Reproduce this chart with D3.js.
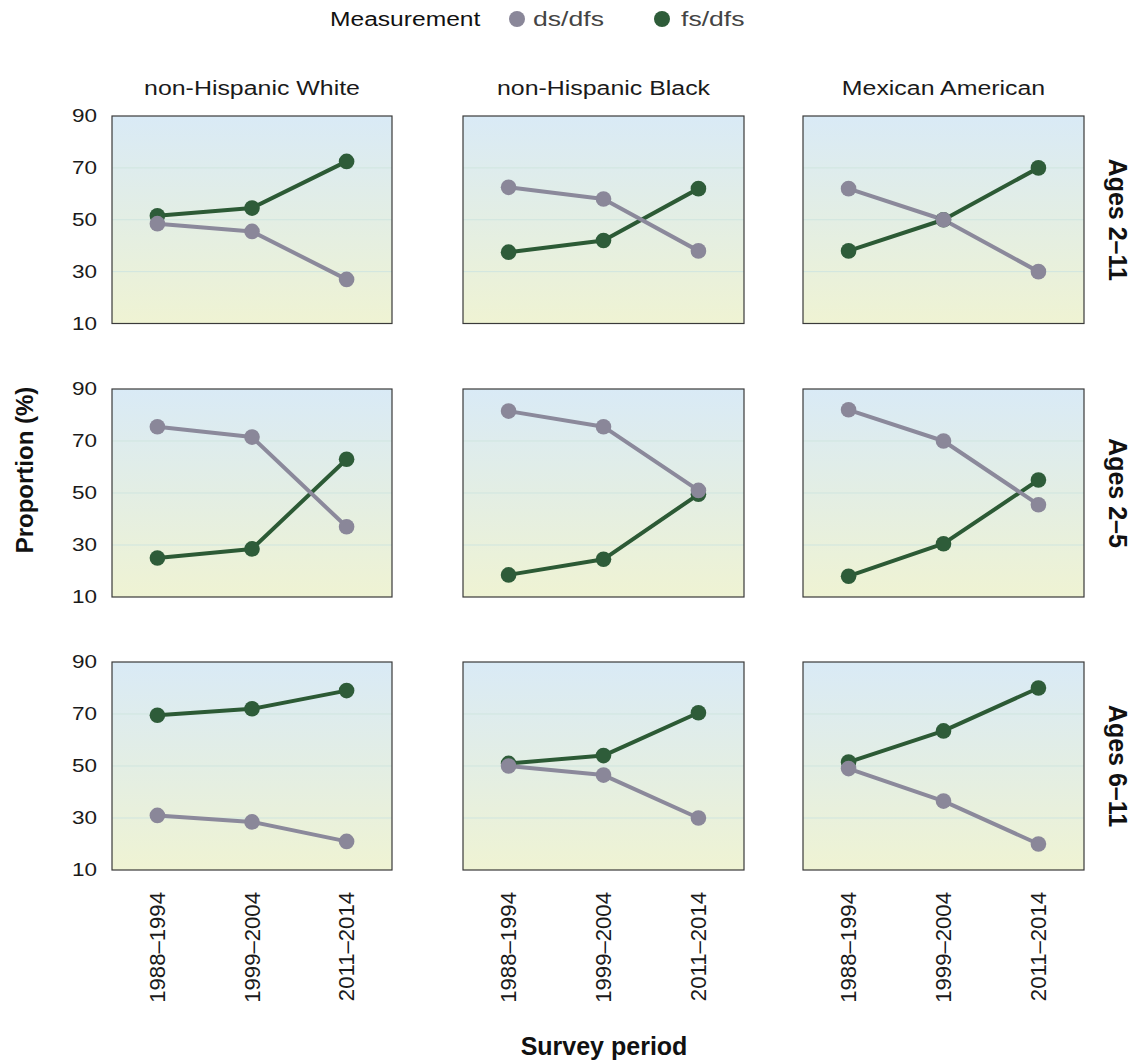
<!DOCTYPE html>
<html>
<head>
<meta charset="utf-8">
<script src="https://cdn.jsdelivr.net/npm/d3@7"></script>
<style>
  html, body { margin: 0; padding: 0; background: #ffffff; }
  svg { display: block; }
  text { font-family: "Liberation Sans", Arial, Helvetica, sans-serif; }
</style>
</head>
<body>
<script>
// ---------------- data ----------------
const periods = ["1988–1994", "1999–2004", "2011–2014"];
const groups = ["non-Hispanic White", "non-Hispanic Black", "Mexican American"];
const ageGroups = ["Ages 2–11", "Ages 2–5", "Ages 6–11"];
const measures = ["ds/dfs", "fs/dfs"];
const yTicks = [10, 30, 50, 70, 90];

// values per ethnic group (rows of each array) across periods
const dsAges2to11 = [[48.5, 45.5, 27], [62.5, 58, 38], [62, 50, 30]];
const fsAges2to11 = [[51.5, 54.5, 72.5], [37.5, 42, 62], [38, 50, 70]];
const dsAges2to5  = [[75.5, 71.5, 37], [81.5, 75.5, 51], [82, 70, 45.5]];
const fsAges2to5  = [[25, 28.5, 63], [18.5, 24.5, 49.5], [18, 30.5, 55]];
const dsAges6to11 = [[31, 28.5, 21], [50, 46.5, 30], [49, 36.5, 20]];
const fsAges6to11 = [[69.5, 72, 79], [51, 54, 70.5], [51.5, 63.5, 80]];

const dsByAge = [dsAges2to11, dsAges2to5, dsAges6to11];
const fsByAge = [fsAges2to11, fsAges2to5, fsAges6to11];

// ---------------- layout ----------------
const W = 1135, H = 1064;
const colX = [[112, 392], [463, 744], [803, 1084]];
const rowY = [[116, 323.5], [389, 597], [662, 870]];
const colors = { "ds/dfs": "#8a8799", "fs/dfs": "#2e5c39" };
const lineColors = { "ds/dfs": "#8b899b", "fs/dfs": "#2c5a35" };

const svg = d3.select("body").append("svg")
  .attr("width", W).attr("height", H);

const defs = svg.append("defs");
const grad = defs.append("linearGradient")
  .attr("id", "panelBg").attr("x1", 0).attr("y1", 0).attr("x2", 0).attr("y2", 1);
grad.append("stop").attr("offset", "0%").attr("stop-color", "#d9eaf6");
grad.append("stop").attr("offset", "50%").attr("stop-color", "#e3eee4");
grad.append("stop").attr("offset", "100%").attr("stop-color", "#eff3d3");

function stretchedText(g, x, y, rot, str, size, opts = {}) {
  return g.append("text")
    .attr("transform", `translate(${x},${y}) rotate(${rot}) scale(${opts.sx ?? 1},1)`)
    .attr("text-anchor", opts.anchor || "middle")
    .attr("dy", opts.dy || null)
    .attr("font-size", size)
    .attr("font-weight", opts.weight || "normal")
    .attr("fill", opts.fill || "#1a1a1a")
    .text(str);
}

// ---------------- legend ----------------
const legend = svg.append("g");
stretchedText(legend, 330, 26, 0, "Measurement", 20, { anchor: "start", sx: 1.23, fill: "#111" });
const legendPos = [[517, 533], [662, 681]];
measures.forEach((m, i) => {
  legend.append("circle").attr("cx", legendPos[i][0]).attr("cy", 19).attr("r", 8)
    .attr("fill", colors[m]);
  stretchedText(legend, legendPos[i][1], 26, 0, m, 20, { anchor: "start", sx: 1.33, fill: "#444" });
});

// ---------------- panels ----------------
ageGroups.forEach((age, r) => {
  groups.forEach((grp, c) => {
    const x = d3.scalePoint().domain(periods).range(colX[c]).padding(0.48);
    const y = d3.scaleLinear().domain([10, 90]).range([rowY[r][1], rowY[r][0]]);
    const g = svg.append("g");

    g.append("rect")
      .attr("x", colX[c][0]).attr("y", rowY[r][0])
      .attr("width", colX[c][1] - colX[c][0]).attr("height", rowY[r][1] - rowY[r][0])
      .attr("fill", "url(#panelBg)");

    // gridlines
    g.selectAll("line.grid").data(yTicks.slice(1, -1)).join("line")
      .attr("x1", colX[c][0]).attr("x2", colX[c][1])
      .attr("y1", d => y(d)).attr("y2", d => y(d))
      .attr("stroke", "#cfe5df").attr("stroke-width", 1);

    const series = [
      { m: "fs/dfs", vals: fsByAge[r][c] },
      { m: "ds/dfs", vals: dsByAge[r][c] }
    ];
    const line = d3.line().x((d, i) => x(periods[i])).y(d => y(d));
    series.forEach(s => {
      g.append("path").datum(s.vals)
        .attr("d", line).attr("fill", "none")
        .attr("stroke", lineColors[s.m]).attr("stroke-width", 4)
        .attr("stroke-linejoin", "round");
    });
    series.forEach(s => {
      g.selectAll(null).data(s.vals).join("circle")
        .attr("cx", (d, i) => x(periods[i])).attr("cy", d => y(d))
        .attr("r", 7.8).attr("fill", colors[s.m]);
    });

    // border
    g.append("rect")
      .attr("x", colX[c][0]).attr("y", rowY[r][0])
      .attr("width", colX[c][1] - colX[c][0]).attr("height", rowY[r][1] - rowY[r][0])
      .attr("fill", "none").attr("stroke", "#3a3a3a").attr("stroke-width", 1.2);

    // y axis labels on first column
    if (c === 0) {
      const ax = g.append("g");
      yTicks.forEach(t => {
        stretchedText(ax, 97, y(t), 0, String(t), 18, { anchor: "end", dy: "0.36em", sx: 1.25, fill: "#1a1a1a" });
      });
    }
    // x axis labels on last row
    if (r === ageGroups.length - 1) {
      const ax = g.append("g");
      periods.forEach(p => {
        stretchedText(ax, x(p), 892, -90, p, 21.5, { anchor: "end", dy: "0.36em", sx: 1.03, fill: "#1a1a1a" });
      });
    }
    // column strip titles
    if (r === 0) {
      stretchedText(g, (colX[c][0] + colX[c][1]) / 2, 95, 0, grp, 20, { sx: 1.245, fill: "#1a1a1a" });
    }
    // row strip titles
    if (c === groups.length - 1) {
      stretchedText(g, 1109, (rowY[r][0] + rowY[r][1]) / 2, 90, age, 25, { weight: "bold", fill: "#111" });
    }
  });
});

// axis titles
stretchedText(svg, 33, 470, -90, "Proportion (%)", 24, { weight: "bold", fill: "#111" });
stretchedText(svg, 604, 1055, 0, "Survey period", 25, { weight: "bold", fill: "#111" });
</script>
</body>
</html>
